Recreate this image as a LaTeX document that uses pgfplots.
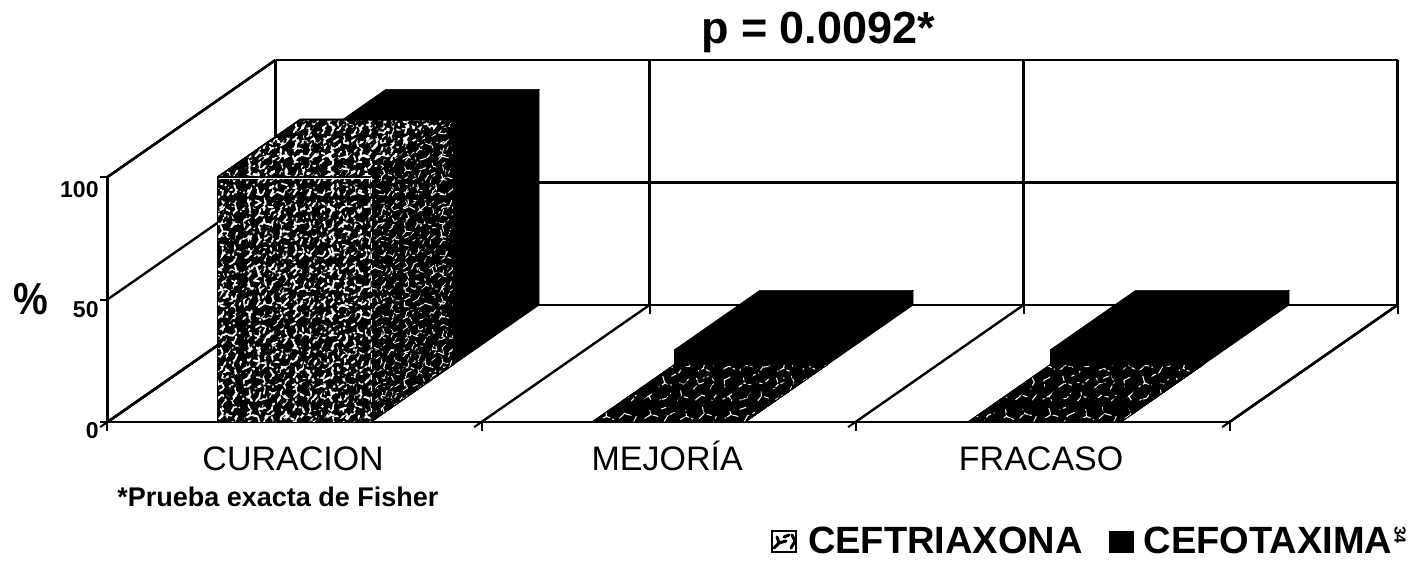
\documentclass[border=0pt]{standalone}
\usepackage{fontspec}
\setmainfont{Liberation Sans}
\usepackage{graphicx}
\usepackage{pgfplots}
\pgfplotsset{compat=1.18}
\usetikzlibrary{patterns,calc}

% Mottled surface of the CEFTRIAXONA bars: short white strokes on black
\newcommand\seg[4]{\pgfpathmoveto{\pgfqpoint{#1pt}{#2pt}}\pgfpathlineto{\pgfqpoint{#3pt}{#4pt}}}
\newcommand\speckstrokes{%
\seg{3}{5}{9}{8}\seg{9}{8}{12}{3}\seg{9}{8}{14}{12}\seg{20}{4}{27}{6}\seg{27}{6}{31}{11}
\seg{38}{3}{42}{8}\seg{42}{8}{49}{6}\seg{42}{8}{41}{14}\seg{56}{4}{62}{9}\seg{62}{9}{69}{7}
\seg{72}{3}{77}{9}\seg{5}{17}{4}{24}\seg{4}{24}{10}{27}\seg{19}{17}{25}{21}\seg{25}{21}{23}{28}
\seg{25}{21}{32}{19}\seg{37}{22}{44}{20}\seg{44}{20}{49}{25}\seg{54}{15}{59}{20}\seg{59}{20}{57}{26}
\seg{59}{20}{66}{22}\seg{71}{15}{75}{22}\seg{75}{22}{72}{28}\seg{3}{35}{9}{38}\seg{9}{38}{15}{35}
\seg{9}{38}{8}{45}\seg{20}{34}{26}{39}\seg{26}{39}{33}{37}\seg{26}{39}{25}{46}\seg{39}{31}{43}{37}
\seg{43}{37}{50}{38}\seg{50}{38}{52}{44}\seg{58}{33}{64}{36}\seg{64}{36}{70}{33}\seg{64}{36}{66}{43}
\seg{73}{38}{77}{44}\seg{4}{52}{11}{54}\seg{11}{54}{14}{60}\seg{19}{50}{17}{57}\seg{31}{48}{37}{53}
\seg{37}{53}{44}{50}\seg{37}{53}{36}{60}\seg{49}{52}{55}{57}\seg{55}{57}{62}{54}\seg{68}{49}{72}{55}
\seg{72}{55}{77}{52}\seg{5}{66}{11}{70}\seg{11}{70}{9}{76}\seg{11}{70}{18}{68}\seg{24}{62}{28}{69}
\seg{28}{69}{35}{72}\seg{41}{65}{47}{68}\seg{47}{68}{46}{75}\seg{47}{68}{54}{65}\seg{60}{66}{65}{71}
\seg{65}{71}{63}{77}\seg{65}{71}{72}{69}\seg{74}{62}{77}{68}\seg{20}{75}{26}{77}\seg{34}{59}{30}{56}
\seg{14}{44}{19}{43}\seg{56}{45}{60}{48}\seg{32}{28}{36}{30}\seg{64}{26}{69}{28}%
}
% #1 pattern name, #2 tile size, #3 line width, #4 scale of the strokes
\newcommand\declarespeck[4]{%
  \pgfdeclarepatternformonly{#1}{\pgfqpoint{0pt}{0pt}}{\pgfqpoint{#2pt}{#2pt}}{\pgfqpoint{#2pt}{#2pt}}%
    {\pgftransformcm{0}{#4}{#4}{0}{\pgfpointorigin}\pgfsetlinewidth{#3pt}\pgfsetroundcap\speckstrokes\pgfusepath{stroke}}}
\pgfdeclarepatternformonly{speckA}{\pgfqpoint{0pt}{0pt}}{\pgfqpoint{80pt}{80pt}}{\pgfqpoint{80pt}{80pt}}%
  {\pgfsetlinewidth{2.1pt}\pgfsetroundcap\speckstrokes\pgfusepath{stroke}}
\pgfdeclarepatternformonly{speckAthick}{\pgfqpoint{0pt}{0pt}}{\pgfqpoint{80pt}{80pt}}{\pgfqpoint{80pt}{80pt}}%
  {\pgfsetlinewidth{3pt}\pgfsetroundcap\speckstrokes\pgfusepath{stroke}}
\pgfdeclarepatternformonly{speckAthin}{\pgfqpoint{0pt}{0pt}}{\pgfqpoint{80pt}{80pt}}{\pgfqpoint{80pt}{80pt}}%
  {\pgfsetlinewidth{1.1pt}\pgfsetroundcap\speckstrokes\pgfusepath{stroke}}
\declarespeck{speckB}{61}{1.9}{0.7625}
\declarespeck{speckBthin}{61}{0.9}{0.7625}
\declarespeck{speckbreak}{37}{2.2}{0.4625}

\tikzset{
  solidface/.style={draw=black,fill=black,line width=0.6pt},
  front/.style={draw=black,line width=1pt,fill=black,
    postaction={pattern=speckA,pattern color=white},
    postaction={pattern=speckB,pattern color=white},
    postaction={pattern=speckbreak,pattern color=black}},
  topface/.style={draw=black,line width=1.4pt,fill=black,
    postaction={pattern=speckAthick,pattern color=white},
    postaction={pattern=speckB,pattern color=white},
    postaction={pattern=speckbreak,pattern color=black}},
  sideface/.style={draw=black,line width=0.6pt,fill=black,
    postaction={pattern=speckAthin,pattern color=white},
    postaction={pattern=speckBthin,pattern color=white},
    postaction={pattern=speckbreak,pattern color=black}},
  floorface/.style={draw=black,line width=0.6pt,fill=black,
    postaction={pattern=speckAthin,pattern color=white},
    postaction={pattern=speckbreak,pattern color=black}},
}

% One box: x from #1 to #2, depth from #3 to #4, height #5, face styles #6 #7 #8
\newcommand\barbox[8]{%
  \addplot3[#6,forget plot] coordinates {(#1,#3,0) (#2,#3,0) (#2,#3,#5) (#1,#3,#5) (#1,#3,0)};
  \addplot3[#8,forget plot] coordinates {(#2,#3,0) (#2,#4,0) (#2,#4,#5) (#2,#3,#5) (#2,#3,0)};
  \addplot3[#7,forget plot] coordinates {(#1,#3,#5) (#2,#3,#5) (#2,#4,#5) (#1,#4,#5) (#1,#3,#5)};
}

\begin{document}
\begin{tikzpicture}
\begin{axis}[
  x={(374pt,0pt)}, y={(168pt,117pt)}, z={(0pt,2.45pt)},
  xmin=0, xmax=3, ymin=0, ymax=1, zmin=0, zmax=100,
  clip=false,
  axis line style={line width=2.5pt},
  tick style={line width=2pt,black},
  major tick length=9pt,
  tick align=outside,
  xtick={0,1,2,3}, xticklabels={},
  extra x ticks={0.5,1.5,2.5},
  extra x tick labels={CURACION,MEJORÍA,FRACASO},
  extra x tick style={grid=none,major tick length=0pt,
    tick label style={font=\fontsize{34}{36}\selectfont,text height=25pt,text depth=0pt,yshift=-20pt,xshift=7pt}},
  ytick=\empty,
  ztick={0,50,100}, zticklabels={0,50,100},
  z tick style={draw=none},
  /pgf/number format/assume math mode=true,
  z tick label style={font=\bfseries\fontsize{23}{25}\selectfont,yshift=0pt,xshift=2pt},
  xtick pos=left, ztick pos=left,
  grid=major,
  major grid style={line width=2.4pt,black},
  legend columns=2,
  legend style={draw=none,fill=none,font=\bfseries\fontsize{38}{40}\selectfont,
    at={(rel axis cs:1,0,0)},anchor=north east,
    xshift=168pt,yshift=-101pt,
    /tikz/every even column/.append style={column sep=24pt}},
  legend image code/.code={\path[#1] (0pt,-10.5pt) rectangle (24pt,10.5pt);\path (33pt,0pt);},
]
% CEFOTAXIMA stands behind CEFTRIAXONA in each group
\barbox{0.295}{0.705}{0.49}{1}{88}{solidface}{solidface}{solidface}
\barbox{1.295}{1.705}{0.49}{1}{6}{solidface}{solidface}{solidface}
\barbox{2.30}{2.71}{0.49}{1}{6}{solidface}{solidface}{solidface}
% CEFTRIAXONA
\barbox{0.295}{0.705}{0}{0.49}{100}{front}{topface}{sideface}
\barbox{1.295}{1.705}{0}{0.49}{0}{floorface}{floorface}{floorface}
\barbox{2.30}{2.71}{0}{0.49}{0}{floorface}{floorface}{floorface}
% light edges along the tall box
\addplot3[white,line width=1pt,forget plot] coordinates {(0.297,0,99.4) (0.705,0,99.4)};
\addplot3[white,line width=0.7pt,dash pattern=on 5pt off 6pt,forget plot] coordinates {(0.705,0,100) (0.705,0,4)};
% short outward marks at the values of the height scale
\addplot3[black,line width=2pt,forget plot] coordinates {(-0.02,0,100) (0,0,100)};
\addplot3[black,line width=2pt,forget plot] coordinates {(-0.02,0,50) (0,0,50)};
\addplot3[black,line width=2pt,forget plot] coordinates {(-0.02,0,0) (0,0,0)};

\addlegendimage{draw=black,line width=1.6pt,fill=white,pattern=speckAthick,pattern color=black}
\addlegendentry{CEFTRIAXONA}
\addlegendimage{draw=black,fill=black}
\addlegendentry{CEFOTAXIMA}

\coordinate (o) at (axis cs:0,0,0);
\end{axis}
\pgfresetboundingbox
\coordinate (tl) at ($(o)+(-107.5pt,422pt)$);
\path[use as bounding box] (tl) rectangle ++(1409pt,-563pt);
\begin{scope}[shift={(tl)},x=1pt,y=-1pt]
  \node[font=\bfseries\fontsize{45}{48}\selectfont] at (818,32) {p = 0.0092*};
  \node[font=\bfseries\fontsize{39}{42}\selectfont] at (30.5,299) {\scalebox{1}[1.15]{\%}};
  \node[font=\bfseries\fontsize{27}{29}\selectfont,anchor=east] at (442,497) {*Prueba exacta de Fisher};
  \node[font=\fontsize{16}{16}\selectfont\bfseries,rotate=-90] at (1400,535) {34};
\end{scope}
\end{tikzpicture}
\end{document}
